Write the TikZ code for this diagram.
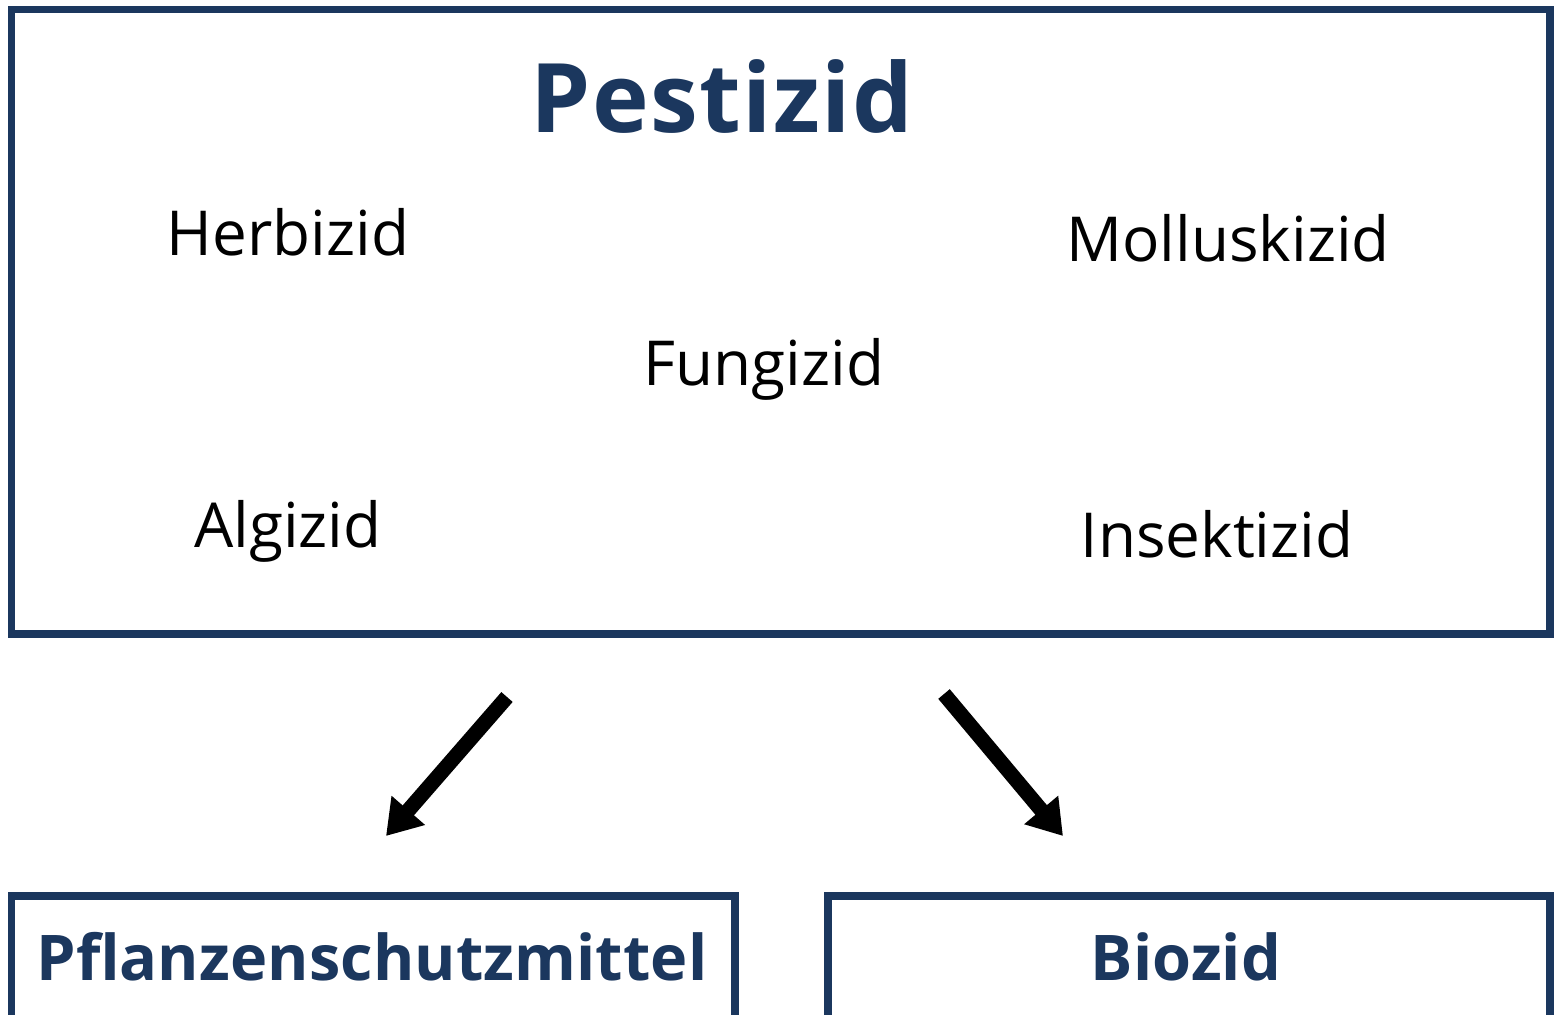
\documentclass[tikz,border=0pt]{standalone}
\usepackage{fontspec}
\setmainfont{Open Sans}
\usetikzlibrary{arrows.meta}
\definecolor{pestblue}{HTML}{1B375E}
\tikzset{
  frame/.style={draw=pestblue,line width=3.6pt},
  title/.style={anchor=base,font=\fontsize{48}{56}\selectfont\bfseries\addfontfeatures{LetterSpace=1.5},text=pestblue},
  kind/.style={anchor=base,font=\fontsize{31}{38}\selectfont},
  target/.style={anchor=base,font=\fontsize{31.5}{38}\selectfont\bfseries\addfontfeatures{LetterSpace=0.2},text=pestblue},
  flow/.style={line width=7.5pt,-{Triangle[length=17pt,width=21pt]}}
}
\begin{document}
\begin{tikzpicture}[x=0.5pt,y=-0.5pt]
\useasboundingbox (0,0) rectangle (1560,1014);
% main box
\draw[frame] (11.5,9.5) rectangle (1550,634);
\node[title](pest) at (722,132){Pestizid};
\node[kind](herb) at (288,255){Herbizid};
\node[kind](moll) at (1228,261){Molluskizid};
\node[kind](fung) at (764,385){Fungizid};
\node[kind](alg) at (288,547){Algizid};
\node[kind](ins) at (1217,557){Insektizid};
% bottom boxes (cut off by the page)
\draw[frame] (11.5,1030) |- (735,896) -- (735,1030);
\draw[frame] (828,1030) |- (1550,896) -- (1550,1030);
\node[target](psm) at (372,980){Pflanzenschutzmittel};
\node[target](bio) at (1186,980){Biozid};
% arrows
\coordinate (l0) at (507,697);
\coordinate (l1) at (386,836);
\coordinate (r0) at (944,694);
\coordinate (r1) at (1063,836);
\draw[flow] (l0) -- (l1);
\draw[flow] (r0) -- (r1);
\end{tikzpicture}
\end{document}
